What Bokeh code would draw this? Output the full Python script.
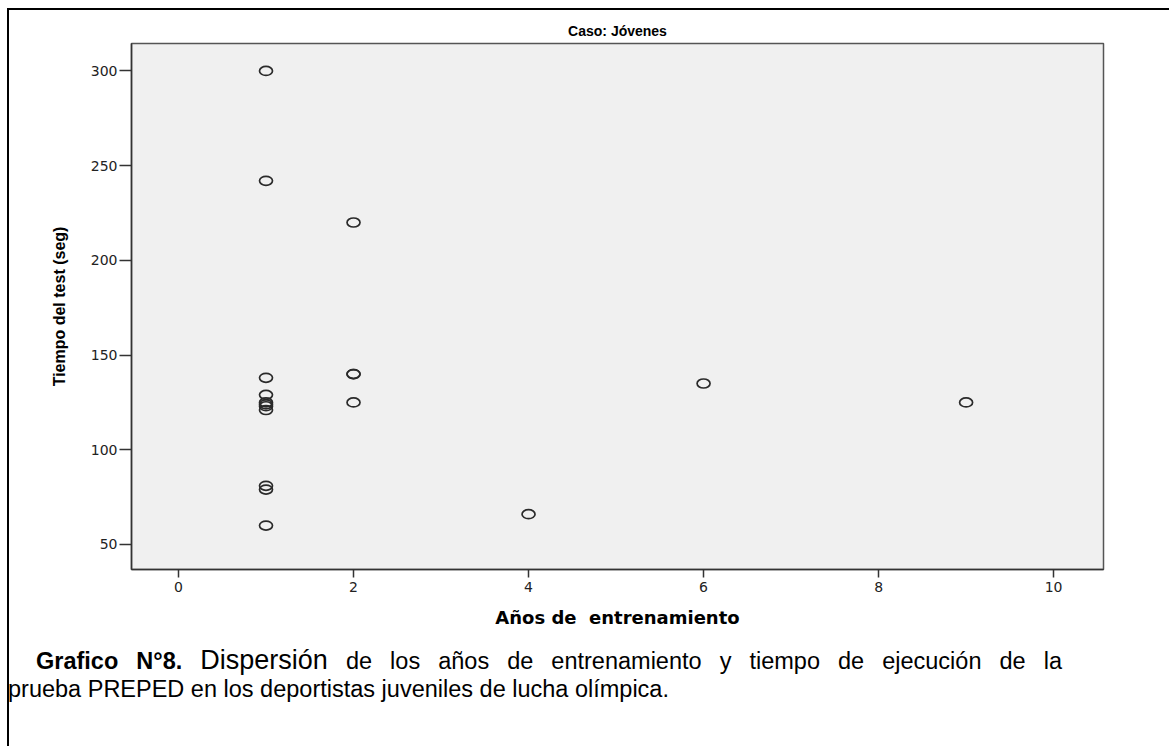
from bokeh.plotting import figure
from bokeh.models import Div, Range1d, FixedTicker, ColumnDataSource
from bokeh.layouts import column
from bokeh.embed import file_html
from bokeh.resources import INLINE

# Data
years = [1, 1, 1, 1, 1, 1, 1, 1, 1, 1, 1, 2, 2, 2, 2, 4, 6, 9]
times = [300, 242, 138, 129, 125, 124, 123, 121, 81, 79, 60, 220, 140, 140, 125, 66, 135, 125]
x_ticks = [0, 2, 4, 6, 8, 10]
y_ticks = [50, 100, 150, 200, 250, 300]

title_text = "Caso: Jóvenes"
x_label = "Años de \u00a0entrenamiento"
y_label = "Tiempo del test (seg)"

src = ColumnDataSource(data=dict(x=years, y=times))

p = figure(width=1160, height=630, output_backend="svg", toolbar_location=None,
           x_range=Range1d(-0.537, 10.57), y_range=Range1d(36.8, 314.5),
           min_border_left=122, min_border_right=66, min_border_top=33,
           min_border_bottom=71, title=title_text)

p.title.align = "center"
p.title.text_font = "Liberation Sans"
p.title.text_font_size = "14px"
p.title.text_font_style = "bold"
p.title.text_color = "#000000"
p.title.standoff = 10

p.background_fill_color = "#f0f0f0"
p.border_fill_color = "white"
p.grid.visible = False
p.outline_line_color = "#555555"
p.outline_line_width = 1.5

for ax in (p.xaxis, p.yaxis):
    ax.axis_line_color = "#333333"
    ax.axis_line_width = 1.5
    ax.major_tick_line_color = "#333333"
    ax.major_tick_line_width = 1.5
    ax.major_tick_in = 0
    ax.minor_tick_line_color = None
    ax.major_label_text_font = "DejaVu Sans"
    ax.major_label_text_font_size = "14px"
    ax.major_label_text_color = "#222222"

p.xaxis.ticker = FixedTicker(ticks=x_ticks)
p.yaxis.ticker = FixedTicker(ticks=y_ticks)
p.xaxis.major_tick_out = 8
p.yaxis.major_tick_out = 12
p.xaxis.major_label_standoff = 4
p.yaxis.major_label_standoff = 2

p.xaxis.axis_label = x_label
p.xaxis.axis_label_text_font = "DejaVu Sans"
p.xaxis.axis_label_text_font_size = "18px"
p.xaxis.axis_label_text_font_style = "bold"
p.xaxis.axis_label_text_color = "#000000"
p.xaxis.axis_label_standoff = 12

p.yaxis.axis_label = y_label
p.yaxis.axis_label_text_font = "Liberation Sans"
p.yaxis.axis_label_text_font_size = "16px"
p.yaxis.axis_label_text_font_style = "bold"
p.yaxis.axis_label_text_color = "#000000"
p.yaxis.axis_label_standoff = 20

p.ellipse(x="x", y="y", width=13, height=9, width_units="screen", height_units="screen",
          fill_color=None, line_color="#2a2a2a", line_width=1.7, source=src)

caption_html = (
    '<div style="font-family:\'Liberation Sans\',Arial,sans-serif;font-size:23.5px;color:#000;'
    'line-height:28px;padding-top:1px;margin-left:-6px;width:1054px">'
    '<div style="text-indent:28px;text-align:justify;text-align-last:justify">'
    '<b>Grafico N°8.</b> <span style="font-size:27px">Dispersión</span> de los años de '
    'entrenamiento y tiempo de ejecución de la</div>'
    '<div>prueba PREPED en los deportistas juveniles de lucha olímpica.</div></div>'
)
caption = Div(text=caption_html, width=1160, height=96)

layout = column(p, caption, styles={"border-top": "2px solid #000", "border-left": "2px solid #000",
                                     "margin-top": "8px", "margin-left": "7px"})

open("out.html", "w").write(file_html(layout, INLINE))
